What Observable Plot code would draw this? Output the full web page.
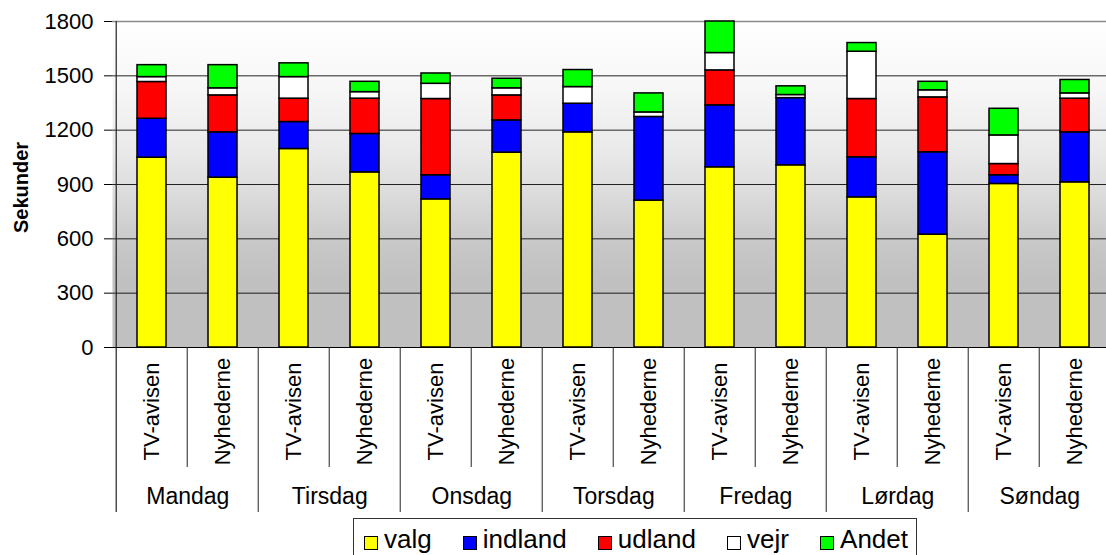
<!DOCTYPE html>
<html>
<head>
<meta charset="utf-8">
<script src="https://cdn.jsdelivr.net/npm/d3@7"></script>
<script src="https://cdn.jsdelivr.net/npm/@observablehq/plot@0.6"></script>
<style>
  html, body { margin: 0; padding: 0; background: #fff; overflow: hidden; }
  #chart { position: relative; width: 1106px; height: 555px; overflow: hidden; font-family: "Liberation Sans", Arial, sans-serif; }
  #legend { position: absolute; left: 353px; top: 518px; width: 564px; height: 46px; box-sizing: border-box;
            border: 1px solid #333; background: #fff; display: flex; align-items: flex-start; justify-content: space-between;
            padding: 5px 8px 0 10px; font-size: 26px; line-height: 30px; color: #000; }
  .item { display: flex; align-items: flex-start; }
  .sw { width: 14px; height: 14px; border: 1px solid #000; margin: 12px 6px 0 0; box-sizing: border-box; }
</style>
</head>
<body>
<div id="chart"></div>
<script>
// ---- data ----
const days = ["Mandag", "Tirsdag", "Onsdag", "Torsdag", "Fredag", "Lørdag", "Søndag"];
const shows = ["TV-avisen", "Nyhederne"];
const categories = ["valg", "indland", "udland", "vejr", "Andet"];
const colors = ["#ffff00", "#0000ff", "#ff0000", "#ffffff", "#00ff00"];
const yTicks = [0, 300, 600, 900, 1200, 1500, 1800];
// values in seconds, order: Mandag TV-avisen, Mandag Nyhederne, Tirsdag TV-avisen, ...
const valg    = [1048, 938, 1096, 967, 818, 1076, 1188, 811, 995, 1006, 829, 623, 903, 912];
const indland = [215, 250, 149, 212, 133, 178, 158, 462, 342, 371, 221, 455, 48, 276];
const udland  = [203, 204, 129, 195, 421, 138, 0, 0, 193, 0, 322, 303, 62, 186];
const vejr    = [27, 39, 119, 36, 84, 39, 92, 25, 96, 17, 261, 39, 158, 29];
const andet   = [66, 128, 76, 57, 57, 53, 94, 105, 174, 48, 48, 47, 147, 74];

// ---- build table ----
const series = [valg, indland, udland, vejr, andet];
const keys = [];
days.forEach(d => shows.forEach(s => keys.push(d + "|" + s)));
const rows = [];
keys.forEach((k, i) => {
  categories.forEach((c, j) => {
    const v = series[j][i];
    if (v > 0) rows.push({key: k, cat: c, value: v});
  });
});

// ---- layout ----
const W = 1114, H = 518, ML = 112, MR = 0, MT = 21, MB = 171;
const step = (W - ML - MR) / keys.length;
const frameH = H - MT - MB;
const font = '"Liberation Sans", Arial, sans-serif';

const plot = Plot.plot({
  width: W, height: H,
  marginLeft: ML, marginRight: MR, marginTop: MT, marginBottom: MB,
  style: {fontFamily: font, fontSize: "22px", color: "#000", maxWidth: "none", background: "transparent"},
  x: {type: "band", domain: keys, padding: 0, axis: null},
  y: {domain: [0, 1800], axis: null},
  color: {domain: categories, range: colors},
  marks: [
    Plot.frame({fill: "url(#bgGrad)"}),
    Plot.ruleY(yTicks.filter(t => t > 0 && t < 1800), {stroke: "#000", strokeOpacity: 0.85}),
    Plot.ruleY([1800], {stroke: "#8a8a8a", strokeWidth: 1.5}),
    Plot.barY(rows, {x: "key", y: "value", fill: "cat", stroke: "#000", strokeWidth: 1.5, insetLeft: 21, insetRight: 21}),
    Plot.ruleY([0], {stroke: "#000"}),
    // left axis line (extends down through the day label area)
    Plot.ruleX([keys[0]], {dx: -step / 2, stroke: "#222", strokeWidth: 1.2, insetBottom: -165}),
    // separators between shows within a day
    Plot.ruleX(keys.filter((k, i) => i % 2 === 1), {dx: -step / 2, stroke: "#222", insetTop: frameH, insetBottom: -120}),
    // separators between days
    Plot.ruleX(keys.filter((k, i) => i % 2 === 0 && i > 0), {dx: -step / 2, stroke: "#222", insetTop: frameH, insetBottom: -165}),
    Plot.axisY({ticks: yTicks, tickFormat: d => String(d), tickSize: 8, tickPadding: 11, label: null, fontSize: 22, stroke: "#000"}),
    Plot.text(keys, {x: d => d, text: d => d.split("|")[1], rotate: -90, frameAnchor: "bottom",
      textAnchor: "middle", lineAnchor: "middle", dy: 64, fontSize: 22}),
    Plot.text(days, {x: d => d + "|TV-avisen", text: d => d, frameAnchor: "bottom",
      textAnchor: "middle", lineAnchor: "middle", dx: step / 2, dy: 149, fontSize: 23}),
    Plot.text(["Sekunder"], {frameAnchor: "left", text: d => d, rotate: -90, textAnchor: "middle",
      lineAnchor: "middle", dx: -91, dy: 3, fontSize: 20, fontWeight: "bold"})
  ]
});

// gradient background for the plot area
const svg = d3.select(plot);
const defs = svg.insert("defs", ":first-child");
const grad = defs.append("linearGradient").attr("id", "bgGrad")
  .attr("x1", 0).attr("y1", 0).attr("x2", 0).attr("y2", 1);
[[0, "#ffffff"], [0.2, "#f7f7f7"], [0.4, "#e9e9e9"], [0.55, "#d9d9d9"], [0.7, "#c6c6c6"], [0.8, "#c0c0c0"], [1, "#c0c0c0"]]
  .forEach(([o, c]) => grad.append("stop").attr("offset", o).attr("stop-color", c));

const chart = document.getElementById("chart");
chart.appendChild(plot);

// legend
const legend = document.createElement("div");
legend.id = "legend";
categories.forEach((c, i) => {
  const item = document.createElement("div");
  item.className = "item";
  const sw = document.createElement("div");
  sw.className = "sw";
  sw.style.background = colors[i];
  const t = document.createElement("span");
  t.textContent = c;
  item.appendChild(sw);
  item.appendChild(t);
  legend.appendChild(item);
});
chart.appendChild(legend);
</script>
</body>
</html>
